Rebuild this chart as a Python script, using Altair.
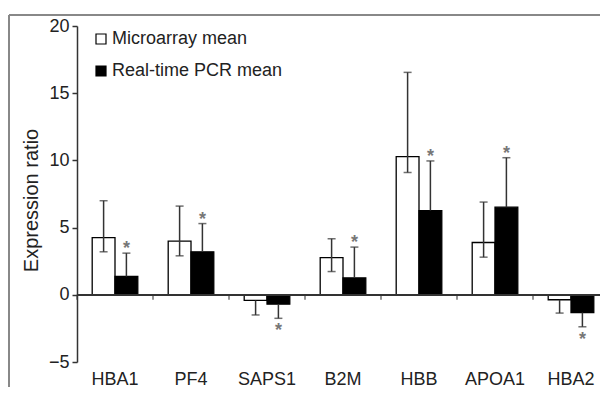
import altair as alt
import pandas as pd

cats = ["HBA1", "PF4", "SAPS1", "B2M", "HBB", "APOA1", "HBA2"]
series = ["Microarray mean", "Real-time PCR mean"]

micro_mean = [4.25, 4.0, -0.42, 2.77, 10.28, 3.89, -0.37]
micro_outer = [7.0, 6.6, -1.5, 4.17, 16.55, 6.9, -1.36]
micro_inner = [3.2, 2.9, None, 1.73, 9.1, 2.8, None]

pcr_mean = [1.36, 3.2, -0.7, 1.26, 6.27, 6.52, -1.32]
pcr_outer = [3.1, 5.3, -1.75, 3.55, 9.96, 10.2, -2.38]

y_ticks = [-5, 0, 5, 10, 15, 20]

W, H = 523, 336
XR = 532
FONT = "Liberation Sans"
STEP = XR / 7

bars = pd.DataFrame(
    [{"cat": c, "series": series[0], "v": m} for c, m in zip(cats, micro_mean)]
    + [{"cat": c, "series": series[1], "v": m} for c, m in zip(cats, pcr_mean)]
)

err_rows, cap_rows, star_rows = [], [], []
for c, m, o, i in zip(cats, micro_mean, micro_outer, micro_inner):
    lo = i if i is not None else m
    err_rows.append({"cat": c, "series": series[0], "a": lo, "b": o})
    cap_rows.append({"cat": c, "series": series[0], "v": o})
    if i is not None:
        cap_rows.append({"cat": c, "series": series[0], "v": i})
for c, m, o in zip(cats, pcr_mean, pcr_outer):
    err_rows.append({"cat": c, "series": series[1], "a": m, "b": o})
    cap_rows.append({"cat": c, "series": series[1], "v": o})
    star_rows.append({"cat": c, "series": series[1], "v": o, "s": "*"})

errs = pd.DataFrame(err_rows)
caps = pd.DataFrame(cap_rows)
stars = pd.DataFrame(star_rows)
cat_df = pd.DataFrame({"cat": cats})

xs = alt.Scale(domain=cats, paddingInner=0.4, paddingOuter=0.2, range=[0, XR])
ys = alt.Scale(domain=[-5, 20], nice=False, zero=False)
xo = alt.XOffset("series:N", scale=alt.Scale(domain=series))

x_enc = alt.X(
    "cat:N", scale=xs, sort=cats,
    axis=alt.Axis(title=None, domain=False, ticks=False, tickSize=0, labelAngle=0,
                  labelFontSize=18, labelPadding=8, labelColor="#222", labelFont=FONT),
)
y_axis = alt.Axis(
    values=y_ticks, title="Expression ratio", grid=False, tickSize=5, tickWidth=1.5,
    tickColor="#333", domainColor="#333", domainWidth=1.5, labelFontSize=18,
    labelPadding=3, labelColor="#222", labelFont=FONT, titleFont=FONT,
    titleFontSize=20, titleFontWeight="normal", titleColor="#222", titlePadding=7,
    titleY=174,
)

bar_layer = alt.Chart(bars).mark_bar(stroke="black", strokeWidth=1.3).encode(
    x=x_enc,
    xOffset=xo,
    y=alt.Y("v:Q", scale=ys, axis=y_axis),
    fill=alt.Fill(
        "series:N",
        scale=alt.Scale(domain=series, range=["white", "black"]),
        legend=alt.Legend(
            title=None, orient="none", legendX=15, legendY=4, symbolType="square",
            symbolSize=100, symbolStrokeColor="black", symbolStrokeWidth=1.2,
            labelFontSize=18, labelFont=FONT, labelColor="#222", labelOffset=2,
            rowPadding=14, labelLimit=400,
        ),
    ),
)

err_layer = alt.Chart(errs).mark_rule(color="#333", strokeWidth=1.5).encode(
    x=alt.X("cat:N", scale=xs, sort=cats), xOffset=xo,
    y=alt.Y("a:Q", scale=ys), y2="b:Q",
)

cap_layer = alt.Chart(caps).mark_tick(
    color="#333", size=8, thickness=1.5, orient="horizontal"
).encode(
    x=alt.X("cat:N", scale=xs, sort=cats), xOffset=xo,
    y=alt.Y("v:Q", scale=ys),
)

star_up = alt.Chart(stars).transform_filter("datum.v > 0").mark_text(
    fontSize=18, font=FONT, fontWeight="bold", color="#777", baseline="middle", dy=-4
).encode(
    x=alt.X("cat:N", scale=xs, sort=cats), xOffset=xo,
    y=alt.Y("v:Q", scale=ys), text="s:N",
)
star_dn = alt.Chart(stars).transform_filter("datum.v < 0").mark_text(
    fontSize=18, font=FONT, fontWeight="bold", color="#777", baseline="middle", dy=13
).encode(
    x=alt.X("cat:N", scale=xs, sort=cats), xOffset=xo,
    y=alt.Y("v:Q", scale=ys), text="s:N",
)

zero_line = alt.Chart(cat_df).mark_rule(color="#333", strokeWidth=1.5).encode(
    y=alt.datum(0)
)

sep_ticks = alt.Chart(cat_df).mark_tick(
    color="#333", size=5, thickness=1.5, orient="vertical", yOffset=2.5,
    xOffset=-0.2 * STEP,
).encode(
    x=alt.X("cat:N", scale=xs, sort=cats, bandPosition=0),
    y=alt.datum(0),
)

frame_left = alt.Chart(cat_df).mark_rule(color="#888", strokeWidth=1.5).encode(
    x=alt.value(-68), y=alt.value(-11), y2=alt.value(H + 30)
)
frame_top = alt.Chart(cat_df).mark_rule(color="#888", strokeWidth=1.5).encode(
    x=alt.value(-68), x2=alt.value(W), y=alt.value(-11)
)

chart = alt.layer(
    frame_left, frame_top, bar_layer, err_layer, cap_layer, zero_line, sep_ticks,
    star_up, star_dn,
).properties(
    width=W, height=H,
    autosize=alt.AutoSizeParams(type="none"),
    padding={"left": 69, "top": 18, "right": 0, "bottom": 25},
    background="white",
).configure_view(stroke=None)

chart.save("out.html", embed_options={"renderer": "svg", "actions": False})
